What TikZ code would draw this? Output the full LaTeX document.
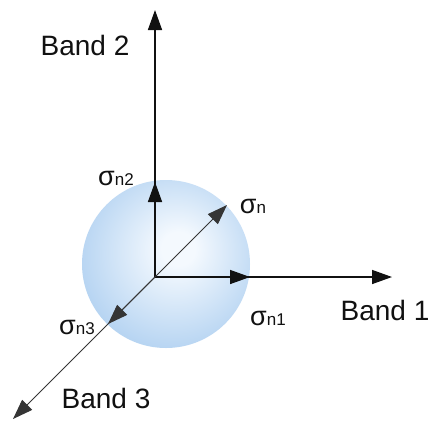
\documentclass[tikz,border=0pt]{standalone}
\usepackage{fontspec}
\setmainfont{Liberation Sans}
\usepackage{tikz}
\usetikzlibrary{positioning,arrows.meta}
\definecolor{BLine}{HTML}{111111}
\definecolor{BBlob}{HTML}{A2C8EE}
\definecolor{BCore}{HTML}{F4F9FE}
\pgfdeclareradialshading{blobshade}{\pgfpoint{4bp}{5bp}}{%
  color(0bp)=(BCore); color(5bp)=(BCore); color(36bp)=(BBlob); color(60bp)=(BBlob)}
\tikzset{
  axisarr/.style={-{Triangle[length=20pt,width=14pt]}, line width=1.5pt, draw=BLine},
  diagarr/.style={-{Triangle[length=20pt,width=14pt]}, line width=0.9pt, draw=BLine!85},
  bandlbl/.style={font=\fontsize{28}{30}\selectfont, text=BLine, inner sep=0pt},
  sigmalbl/.style={font=\fontsize{27}{29}\selectfont, text=BLine, inner sep=0pt}
}
\newcommand{\sigsub}[1]{σ{\fontsize{17}{19}\selectfont #1}}
\begin{document}
\begin{tikzpicture}[x=1pt,y=-1pt]
  \useasboundingbox[fill=white] (0,0) rectangle (431,421);
  % blob
  \shade[shading=blobshade] (166,264) circle[radius=84];
  % points
  \coordinate (O) at (155,277);
  \coordinate (b1) at (392,277);
  \coordinate (b2) at (155,10);
  \coordinate (b3) at (13,419);
  \coordinate (s1) at (250,277);
  \coordinate (s2) at (155,182);
  \coordinate (s) at (227,205);
  \coordinate (s3) at (108,324);
  % axes
  \draw[axisarr] (O) -- (b1);
  \draw[axisarr] (O) -- (b2);
  \draw[diagarr] (O) -- (b3);
  \draw[axisarr] (O) -- (s1);
  \draw[axisarr] (O) -- (s2);
  \draw[diagarr] (O) -- (s);
  \draw[diagarr] (O) -- (s3);
  % labels
  \node[bandlbl] (band2) at (85,45) {Band 2};
  \node[bandlbl] (band1) at (385,310) {Band 1};
  \node[bandlbl] (band3) at (106,398) {Band 3};
  \node[sigmalbl] (ln2) at (116,178) {\sigsub{n2}};
  \node[sigmalbl] (ln) at (253,206) {\sigsub{n}};
  \node[sigmalbl] (ln1) at (268,318) {\sigsub{n1}};
  \node[sigmalbl] (ln3) at (77,327) {\sigsub{n3}};
\end{tikzpicture}
\end{document}
